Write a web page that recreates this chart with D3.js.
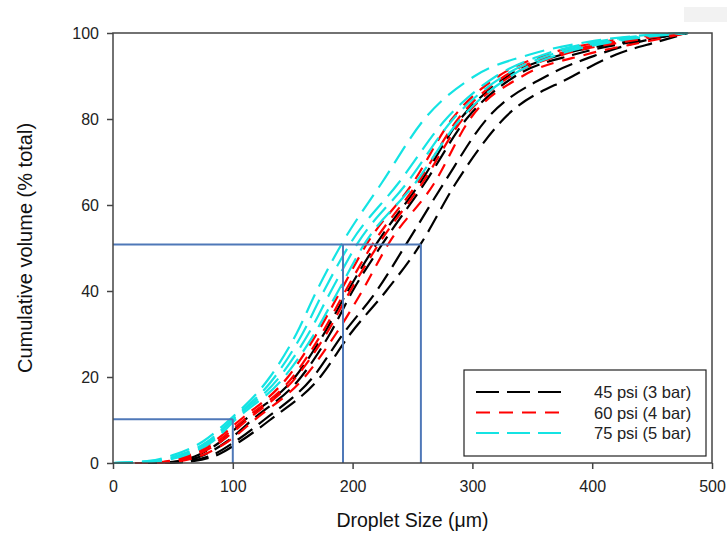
<!DOCTYPE html>
<html>
<head>
<meta charset="utf-8">
<script src="https://cdn.jsdelivr.net/npm/d3@7"></script>
<style>
  body { margin: 0; background: #fff; }
  svg { font-family: Arial, "Liberation Sans", sans-serif; }
</style>
</head>
<body>
<div id="chart"></div>
<script>
var margin = {top: 33, right: 15, bottom: 76, left: 113};
var width = 727 - margin.left - margin.right;
var height = 539 - margin.top - margin.bottom;

// cumulative volume levels (% total) and droplet size (um) at each level
var levels = [0, 0.5, 2, 5, 10, 20, 30, 40, 51, 65, 80, 90, 95, 98, 100];

var cyan1 = [0, 30, 52, 75, 97, 131, 153, 170, 191, 224, 260, 302, 348, 398, 470];
var cyan2 = [0, 34, 57, 79, 99, 135, 158, 176, 198, 238, 278, 320, 360, 405, 475];
var cyan3 = [0, 37, 60, 81, 100, 139, 163, 182, 204, 245, 284, 326, 366, 412, 478];
var cyan4 = [0, 39, 62, 83, 102, 143, 168, 188, 210, 252, 290, 332, 372, 418, 480];

var red1 = [25, 47, 65, 84, 106, 146, 170, 190, 212, 250, 283, 322, 362, 410, 475];
var red2 = [28, 50, 68, 87, 109, 150, 174, 194, 217, 254, 288, 327, 370, 420, 478];
var red3 = [30, 53, 71, 90, 112, 153, 178, 198, 222, 258, 292, 332, 376, 428, 478];
var red4 = [32, 57, 76, 96, 118, 160, 186, 208, 230, 268, 298, 342, 395, 445, 480];

var black1 = [35, 56, 72, 90, 110, 152, 176, 196, 220, 256, 290, 330, 375, 430, 478];
var black2 = [38, 60, 77, 95, 116, 157, 181, 200, 225, 260, 295, 336, 385, 435, 480];
var black3 = [40, 65, 84, 102, 126, 167, 192, 220, 245, 276, 312, 362, 405, 440, 478];
var black4 = [42, 68, 88, 106, 131, 173, 198, 228, 257, 286, 326, 384, 420, 455, 480];

// reference lines: D10 and D50 markers
var refD10 = {size: 100, level: 10.2};
var refD50 = {sizes: [192, 257], level: 50.8};

var legendLabels = ["45 psi (3 bar)", "60 psi (4 bar)", "75 psi (5 bar)"];
var colors = {black: "#000000", red: "#ff0000", cyan: "#14e3e3"};
var dashes = {black: "18,8", red: "13,9", cyan: "20,9"};

var xTicks = [0, 100, 200, 300, 400, 500];
var yTicks = [0, 20, 40, 60, 80, 100];

var series = [
  {c: "black", v: black1}, {c: "black", v: black2}, {c: "black", v: black3}, {c: "black", v: black4},
  {c: "red", v: red1}, {c: "red", v: red2}, {c: "red", v: red3}, {c: "red", v: red4},
  {c: "cyan", v: cyan1}, {c: "cyan", v: cyan2}, {c: "cyan", v: cyan3}, {c: "cyan", v: cyan4}
];

var root = d3.select("#chart").append("svg")
  .attr("width", 727)
  .attr("height", 539);

// faint grey patch in the corner of the original
root.append("rect")
  .attr("x", 684).attr("y", 7).attr("width", 43).attr("height", 15)
  .attr("fill", "#f2f2f2");

var svg = root.append("g")
  .attr("transform", "translate(" + margin.left + "," + margin.top + ")");

var xscale = d3.scaleLinear().domain([0, 500]).range([0, width]);
var yscale = d3.scaleLinear().domain([0, 100]).range([height, 0]);

var line = d3.line()
  .x(function(d) { return xscale(d[0]); })
  .y(function(d) { return yscale(d[1]); })
  .curve(d3.curveMonotoneX);

// curves
series.forEach(function(s) {
  var pts = s.v.map(function(x, i) { return [x, levels[i]]; });
  if (s.v[0] > 0) pts.unshift([0, 0]);
  svg.append("path")
    .datum(pts)
    .attr("d", line)
    .attr("fill", "none")
    .attr("stroke", colors[s.c])
    .attr("stroke-width", 2.2)
    .attr("stroke-dasharray", dashes[s.c]);
});

// blue reference lines
var refColor = "#4f78b8";
var ref = svg.append("g").attr("stroke", refColor).attr("stroke-width", 2).attr("fill", "none");
ref.append("line")
  .attr("x1", xscale(0)).attr("x2", xscale(refD10.size))
  .attr("y1", yscale(refD10.level)).attr("y2", yscale(refD10.level));
ref.append("line")
  .attr("x1", xscale(refD10.size)).attr("x2", xscale(refD10.size))
  .attr("y1", yscale(0)).attr("y2", yscale(refD10.level));
ref.append("line")
  .attr("x1", xscale(0)).attr("x2", xscale(d3.max(refD50.sizes)))
  .attr("y1", yscale(refD50.level)).attr("y2", yscale(refD50.level));
refD50.sizes.forEach(function(sz) {
  ref.append("line")
    .attr("x1", xscale(sz)).attr("x2", xscale(sz))
    .attr("y1", yscale(0)).attr("y2", yscale(refD50.level));
});

// axes
var xaxis = d3.axisBottom(xscale).tickValues(xTicks).tickSize(6).tickPadding(12);
var yaxis = d3.axisLeft(yscale).tickValues(yTicks).tickSize(6).tickPadding(8);

var gx = svg.append("g")
  .attr("transform", "translate(0," + height + ")")
  .call(xaxis);
var gy = svg.append("g").call(yaxis);

[gx, gy].forEach(function(g) {
  g.select(".domain").remove();
  g.selectAll("line").attr("stroke", "#444").attr("stroke-width", 1.5);
  g.selectAll("text").attr("fill", "#222").style("font-size", "16px");
});

// frame
svg.append("rect")
  .attr("x", 0).attr("y", 0)
  .attr("width", width).attr("height", height)
  .attr("fill", "none")
  .attr("stroke", "#444")
  .attr("stroke-width", 1.5);

// axis titles
svg.append("text")
  .attr("x", xscale(250)).attr("y", height + 64)
  .attr("text-anchor", "middle")
  .attr("fill", "#111")
  .style("font-size", "19.5px")
  .text("Droplet Size (\u03bcm)");

svg.append("text")
  .attr("transform", "translate(" + (-81) + "," + yscale(50) + ") rotate(-90)")
  .attr("text-anchor", "middle")
  .attr("fill", "#111")
  .style("font-size", "20px")
  .text("Cumulative volume (% total)");

// legend
var legend = svg.append("g").attr("transform", "translate(" + (464 - margin.left) + "," + (370 - margin.top) + ")");
legend.append("rect")
  .attr("width", 242).attr("height", 86)
  .attr("fill", "#fff")
  .attr("stroke", "#222")
  .attr("stroke-width", 1.2);

["black", "red", "cyan"].forEach(function(c, i) {
  var y = 22 + i * 20.5;
  legend.append("line")
    .attr("x1", 12).attr("x2", 98)
    .attr("y1", y).attr("y2", y)
    .attr("stroke", colors[c])
    .attr("stroke-width", 2)
    .attr("stroke-dasharray", c == "red" ? "14,9" : "23,8");
  legend.append("text")
    .attr("x", 130).attr("y", y + 6)
    .attr("fill", "#222")
    .style("font-size", "16.5px")
    .text(legendLabels[i]);
});
</script>
</body>
</html>
